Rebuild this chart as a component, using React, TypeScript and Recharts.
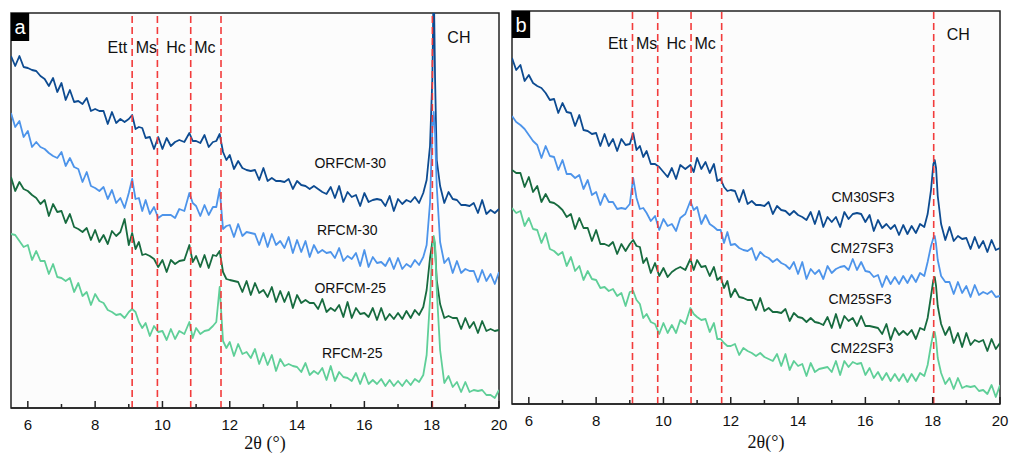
import React from 'react';
import {
  LineChart,
  Line,
  XAxis,
  YAxis,
  ReferenceLine,
  ReferenceArea,
  ReferenceDot,
  CartesianGrid,
  Label,
} from 'recharts';

// 2θ sampling positions (degrees)
const twoTheta = [
  5.5, 5.625, 5.75, 5.875, 6, 6.125, 6.25, 6.375, 6.5, 6.625, 6.75, 6.875, 7, 7.125, 7.25, 7.375, 7.5, 7.625,
  7.75, 7.875, 8, 8.125, 8.25, 8.375, 8.5, 8.625, 8.75, 8.875, 9, 9.1, 9.2, 9.3, 9.4, 9.5, 9.625, 9.75,
  9.875, 10, 10.125, 10.25, 10.375, 10.5, 10.65, 10.8, 10.9, 11, 11.125, 11.25, 11.375, 11.5, 11.6, 11.7,
  11.8, 11.9, 12, 12.125, 12.25, 12.375, 12.5, 12.625, 12.75, 12.875, 13, 13.125, 13.25, 13.375, 13.5,
  13.625, 13.75, 13.875, 14, 14.125, 14.25, 14.375, 14.5, 14.625, 14.75, 14.875, 15, 15.125, 15.25,
  15.375, 15.5, 15.625, 15.75, 15.875, 16, 16.125, 16.25, 16.375, 16.5, 16.625, 16.75, 16.875, 17,
  17.125, 17.25, 17.375, 17.5, 17.625, 17.75, 17.85, 17.95, 18.02, 18.06, 18.1, 18.15, 18.25, 18.375,
  18.5, 18.625, 18.75, 18.875, 19, 19.125, 19.25, 19.375, 19.5, 19.625, 19.75, 19.875, 20,
];

// Panel a (offset intensities, a.u.)
const orfcm30 = [
  352, 342, 352, 341, 340, 338, 337, 332, 329, 322, 330, 316, 325, 308, 318, 306, 307, 304, 310, 297,
  299, 297, 297, 284, 296, 285, 289, 286, 289, 293, 279, 281, 280, 270, 271, 259, 271, 259, 270, 262,
  266, 268, 266, 275, 267, 267, 265, 273, 261, 266, 267, 274, 256, 248, 253, 239, 247, 240, 238, 237,
  238, 228, 240, 227, 230, 227, 227, 226, 229, 219, 227, 223, 222, 219, 222, 219, 216, 214, 221, 210,
  222, 206, 216, 211, 213, 202, 215, 206, 208, 209, 208, 202, 212, 197, 209, 204, 208, 206, 211, 205,
  215, 228, 262, 330, 430, 330, 248, 222, 205, 216, 209, 208, 203, 203, 202, 205, 195, 208, 194, 198,
  195, 199,
];
const rfcm30 = [
  295, 281, 287, 271, 277, 261, 266, 261, 259, 255, 252, 250, 256, 242, 250, 241, 239, 226, 236, 222,
  220, 217, 221, 209, 218, 205, 210, 200, 215, 229, 209, 210, 197, 208, 194, 201, 190, 193, 193, 193,
  190, 199, 197, 215, 205, 202, 192, 203, 193, 201, 201, 219, 179, 182, 183, 171, 184, 172, 176, 175,
  174, 163, 175, 161, 174, 163, 167, 160, 171, 155, 168, 156, 167, 151, 163, 155, 158, 155, 156, 150,
  160, 147, 152, 149, 155, 142, 158, 141, 151, 145, 146, 142, 150, 139, 150, 139, 144, 141, 148, 143,
  151, 163, 205, 280, 296, 275, 222, 166, 145, 150, 135, 147, 135, 139, 137, 137, 126, 138, 127, 134,
  124, 136,
];
const orfcm25 = [
  231, 217, 226, 219, 217, 213, 210, 204, 208, 192, 204, 196, 197, 185, 194, 181, 179, 176, 180, 168,
  178, 166, 173, 164, 177, 172, 176, 189, 163, 175, 159, 166, 153, 154, 152, 149, 141, 148, 136, 148,
  144, 147, 148, 163, 146, 152, 141, 153, 140, 153, 152, 157, 136, 129, 128, 127, 126, 116, 127, 113,
  125, 115, 118, 111, 121, 106, 117, 106, 116, 100, 113, 105, 108, 105, 105, 99, 109, 96, 100, 97,
  103, 91, 106, 90, 100, 94, 95, 91, 100, 88, 100, 88, 94, 89, 95, 89, 97, 90, 98, 93,
  101, 118, 150, 166, 170, 160, 128, 104, 90, 92, 90, 90, 79, 90, 80, 86, 75, 87, 77, 79,
  77, 78,
];
const rfcm25 = [
  174, 173, 167, 161, 163, 148, 157, 147, 147, 134, 144, 131, 130, 127, 130, 116, 125, 112, 116, 103,
  114, 107, 105, 98, 96, 93, 94, 90, 96, 99, 96, 86, 80, 85, 72, 82, 76, 77, 68, 79,
  69, 77, 74, 86, 70, 80, 74, 77, 78, 82, 86, 121, 67, 60, 66, 52, 64, 54, 56, 50,
  59, 44, 55, 43, 53, 37, 49, 42, 44, 42, 41, 36, 45, 33, 37, 34, 40, 28, 42, 27,
  36, 31, 30, 27, 35, 24, 35, 24, 28, 24, 29, 22, 28, 22, 27, 22, 28, 23, 29, 26,
  33, 53, 108, 160, 172, 165, 118, 58, 25, 32, 21, 26, 16, 26, 16, 18, 17, 18, 13, 13,
  10, 18,
];

// Panel b (offset intensities, a.u.)
const cm30sf3 = [
  346, 334, 339, 323, 329, 321, 318, 316, 311, 304, 305, 291, 301, 292, 291, 278, 289, 274, 273, 270,
  271, 258, 270, 258, 265, 253, 265, 259, 260, 271, 254, 258, 247, 253, 240, 240, 237, 232, 227, 236,
  225, 239, 235, 239, 232, 246, 235, 242, 231, 240, 223, 225, 217, 213, 214, 213, 202, 214, 200, 203,
  199, 199, 198, 202, 190, 198, 194, 193, 189, 193, 189, 187, 184, 192, 180, 193, 177, 187, 182, 187,
  177, 192, 185, 190, 191, 190, 182, 189, 173, 184, 176, 180, 175, 179, 169, 179, 170, 178, 171, 180,
  177, 190, 214, 240, 244, 236, 208, 180, 164, 177, 163, 168, 165, 166, 155, 167, 156, 163, 152, 164,
  154, 156,
];
const cm27sf3 = [
  288, 282, 279, 275, 269, 263, 259, 246, 258, 248, 247, 234, 244, 230, 230, 226, 229, 215, 224, 209,
  212, 199, 210, 202, 202, 195, 196, 195, 200, 226, 206, 195, 196, 191, 183, 188, 174, 185, 178, 180,
  173, 186, 190, 203, 194, 197, 180, 189, 180, 177, 174, 174, 161, 172, 159, 160, 156, 154, 153, 156,
  144, 152, 148, 146, 142, 145, 141, 139, 135, 142, 130, 142, 125, 135, 130, 134, 125, 138, 131, 135,
  137, 138, 134, 145, 134, 142, 133, 132, 127, 129, 117, 128, 120, 127, 120, 128, 121, 129, 122, 131,
  128, 142, 158, 166, 168, 160, 144, 128, 122, 122, 110, 122, 111, 118, 107, 119, 109, 112, 110, 113,
  107, 108,
];
const cm25sf3 = [
  234, 231, 231, 217, 227, 212, 218, 202, 210, 202, 201, 198, 194, 187, 190, 175, 186, 176, 176, 163,
  174, 160, 160, 158, 162, 150, 160, 153, 160, 164, 158, 157, 141, 146, 131, 141, 128, 136, 127, 132,
  135, 137, 134, 145, 134, 144, 137, 138, 128, 137, 124, 127, 116, 123, 107, 115, 107, 106, 104, 104,
  94, 106, 93, 96, 92, 92, 91, 95, 83, 91, 87, 86, 82, 86, 82, 81, 79, 87, 76, 90,
  76, 88, 83, 86, 78, 88, 78, 78, 77, 76, 70, 80, 64, 76, 69, 73, 69, 74, 65, 76,
  74, 86, 108, 124, 127, 118, 98, 80, 69, 77, 61, 71, 57, 71, 59, 64, 62, 64, 53, 65,
  55, 61,
];
const cm22sf3 = [
  196, 191, 193, 178, 186, 175, 174, 161, 171, 155, 153, 149, 152, 138, 147, 133, 138, 124, 133, 125,
  124, 116, 117, 113, 115, 108, 111, 98, 112, 113, 104, 100, 86, 90, 82, 80, 70, 81, 71, 79,
  71, 84, 80, 96, 90, 87, 84, 85, 72, 81, 65, 65, 61, 58, 58, 60, 49, 56, 53, 51,
  48, 51, 47, 45, 43, 50, 38, 50, 34, 43, 38, 40, 28, 41, 32, 35, 36, 37, 32, 43,
  29, 43, 37, 42, 40, 41, 29, 36, 26, 32, 24, 31, 23, 30, 23, 30, 22, 30, 23, 31,
  28, 39, 59, 71, 72, 64, 46, 31, 20, 26, 15, 26, 16, 18, 17, 18, 13, 14, 10, 19,
  7, 19,
];

const xTicks = [6, 7, 8, 9, 10, 11, 12, 13, 14, 15, 16, 17, 18, 19, 20];

const peakLinesA = [9.1, 9.85, 10.84, 11.74, 18.02];
const peakLinesB = [9.08, 9.83, 10.82, 11.73, 18.03];
const peakLeftText = ['Ett', '', 'Hc', '', ''];
const peakRightText = ['Ms', '', 'Mc', '', 'CH'];

const seriesNamesA = ['ORFCM-30', 'RFCM-30', 'ORFCM-25', 'RFCM-25'];
const seriesNamesB = ['CM30SF3', 'CM27SF3', 'CM25SF3', 'CM22SF3'];
const nameXA = [15.58, 15.49, 15.58, 15.64];
const nameYA = [245, 178, 120, 55];
const nameXB = [15.93, 15.9, 15.84, 15.9];
const nameYB = [207, 156, 105, 56];

const colors = ['#0d4b91', '#4d94ea', '#176b3f', '#5fcf98'];

const dataA = twoTheta.map((x, i) => ({ x, s0: orfcm30[i], s1: rfcm30[i], s2: orfcm25[i], s3: rfcm25[i] }));
const dataB = twoTheta.map((x, i) => ({ x, s0: cm30sf3[i], s1: cm27sf3[i], s2: cm25sf3[i], s3: cm22sf3[i] }));

const SANS = 'Liberation Sans, Arial, sans-serif';
const SERIF = 'Liberation Serif, Times New Roman, serif';

const AxisTick = (props: any) => {
  const { x, y, payload } = props;
  const major = payload.value % 2 === 0;
  return (
    <g>
      <line x1={x} x2={x} y1={y} y2={y - (major ? 7 : 4)} stroke="#222" strokeWidth={1.5} />
      {major && (
        <text x={x} y={y + 16} textAnchor="middle" dominantBaseline="central" fontSize={15} fontFamily={SANS} fill="#111">
          {payload.value}
        </text>
      )}
    </g>
  );
};

const PeakLabel = (props: any) => {
  const { viewBox, left, right, dy, chDy, chDx } = props;
  const x = viewBox.x;
  const y = viewBox.y;
  const isCH = right === 'CH';
  return (
    <g>
      {left ? (
        <text x={x - 5} y={y + dy} textAnchor="end" dominantBaseline="central" fontSize={16} fontFamily={SANS} fill="#111">
          {left}
        </text>
      ) : null}
      {right ? (
        <text
          x={x + (isCH ? chDx : 3.5)}
          y={y + (isCH ? chDy : dy)}
          textAnchor="start"
          dominantBaseline="central"
          fontSize={16}
          fontFamily={SANS}
          fill="#111"
        >
          {right}
        </text>
      ) : null}
    </g>
  );
};

const NameShape = (text: string) => (props: any) => (
  <text x={props.cx} y={props.cy} textAnchor="middle" dominantBaseline="central" fontSize={14} fontFamily={SANS} fill="#111">
    {text}
  </text>
);

const Panel = ({
  data,
  letter,
  top,
  axisH,
  yMax,
  lines,
  names,
  nameX,
  nameY,
  width,
  marginLeft,
  marginRight,
  title,
  labelDy,
  chDy,
  chDx,
  titleDy,
  boxH,
}: any) => (
  <LineChart
    width={width}
    height={455}
    data={data}
    margin={{ top, right: marginRight, bottom: 0, left: marginLeft }}
  >
    <CartesianGrid horizontal={false} vertical={false} fill="#fcfcfc" />
    <XAxis
      dataKey="x"
      type="number"
      domain={[5.5, 20]}
      allowDataOverflow
      ticks={xTicks}
      interval={0}
      tickSize={0}
      tickMargin={0}
      tickLine={false}
      tick={<AxisTick />}
      axisLine={{ stroke: '#222', strokeWidth: 1.5 }}
      height={axisH}
      label={
        <Label
          content={(p: any) => (
            <text
              x={p.viewBox.x + p.viewBox.width / 2 + 10}
              y={p.viewBox.y + titleDy}
              textAnchor="middle"
              dominantBaseline="central"
              fontSize={18}
              fontFamily={SERIF}
              fill="#111"
            >
              {title}
            </text>
          )}
        />
      }
    />
    <YAxis hide type="number" domain={[0, yMax]} allowDataOverflow />
    {['s0', 's1', 's2', 's3'].map((k, i) => (
      <Line
        key={k}
        dataKey={k}
        stroke={colors[i]}
        strokeWidth={1.8}
        strokeLinejoin="round"
        dot={false}
        isAnimationActive={false}
        type="linear"
      />
    ))}
    {lines.map((lx: number, i: number) => (
      <ReferenceLine
        key={'pl' + i}
        x={lx}
        stroke="#f23c3c"
        strokeWidth={1.6}
        strokeDasharray="7 4"
        label={
          <PeakLabel left={peakLeftText[i]} right={peakRightText[i]} dy={labelDy} chDy={chDy} chDx={chDx} />
        }
      />
    ))}
    {names.map((n: string, i: number) => (
      <ReferenceDot key={n} x={nameX[i]} y={nameY[i]} r={1} shape={NameShape(n)} />
    ))}
    <ReferenceArea
      x1={5.5}
      x2={20}
      y1={0}
      y2={yMax}
      fill="none"
      fillOpacity={0}
      stroke="#222"
      strokeWidth={1.5}
    />
    <ReferenceArea
      x1={5.5}
      x2={6.04}
      y1={yMax - boxH}
      y2={yMax}
      fill="#000"
      fillOpacity={1}
      stroke="none"
      label={{ value: letter, position: 'center', fill: '#fff', fontSize: 20, fontFamily: SANS }}
    />
  </LineChart>
);

export default function App() {
  return (
    <div style={{ position: 'absolute', left: 0, top: 0, width: 1010, height: 455, background: '#fff' }}>
      <div style={{ position: 'absolute', left: 0, top: 0 }}>
        <Panel
          data={dataA}
          letter="a"
          top={13}
          axisH={47}
          yMax={395}
          lines={peakLinesA}
          names={seriesNamesA}
          nameX={nameXA}
          nameY={nameYA}
          width={512}
          marginLeft={11}
          marginRight={13}
          title="2θ (°)"
          labelDy={34}
          chDy={24}
          chDx={15}
          titleDy={35}
          boxH={28}
        />
      </div>
      <div style={{ position: 'absolute', left: 505, top: 0 }}>
        <Panel
          data={dataB}
          letter="b"
          top={11}
          axisH={51}
          yMax={393}
          lines={peakLinesB}
          names={seriesNamesB}
          nameX={nameXB}
          nameY={nameYB}
          width={505}
          marginLeft={7}
          marginRight={10}
          title="2θ(°)"
          labelDy={32}
          chDy={23}
          chDx={13}
          titleDy={38}
          boxH={27}
        />
      </div>
    </div>
  );
}
